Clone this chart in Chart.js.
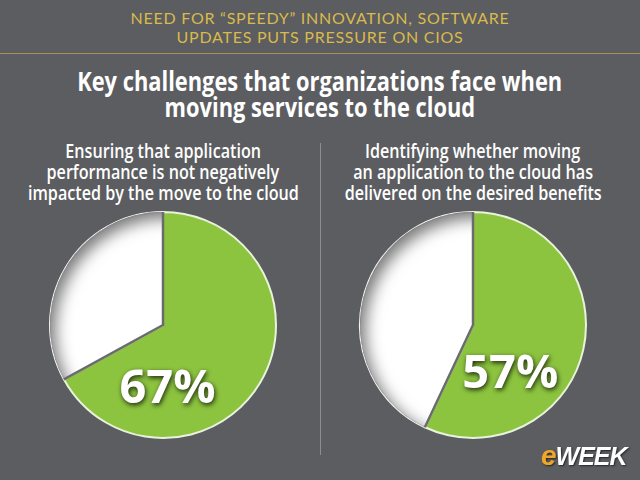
<!DOCTYPE html>
<html>
<head>
<meta charset="utf-8">
<script src="https://cdn.jsdelivr.net/npm/chart.js@4.4.1/dist/chart.umd.min.js"></script>
<style>
  html, body { margin: 0; padding: 0; }
  body {
    width: 640px; height: 480px; overflow: hidden; position: relative;
    background: #5c5d60; font-family: "Open Sans", "Liberation Sans", sans-serif;
  }
  .kicker {
    position: absolute; left: 0; width: 640px; top: 8px; text-align: center;
    color: #d9ba4c; font-family: Lato, "Open Sans", sans-serif; font-size: 16px;
    line-height: 19px; letter-spacing: 0.75px;
  }
  .rule { position: absolute; left: 0; top: 53px; width: 640px; height: 1px; background: #a8925a; }
  .title {
    position: absolute; left: 0; width: 640px; top: 68px; text-align: center;
    color: #fff; font-weight: 700; font-size: 26px; line-height: 26px;
  }
  .title span { display: inline-block; transform: scaleX(0.84); transform-origin: center; white-space: nowrap; }
  .sub span { display: inline-block; transform: scaleX(0.85); transform-origin: center; white-space: nowrap; }
  .sub {
    position: absolute; top: 141px; width: 320px; text-align: center;
    color: #fff; font-weight: 600; font-size: 19px; line-height: 21px;
  }
  .divider { position: absolute; left: 320px; top: 143px; width: 1px; height: 312px; background: #8c8d90; }
  canvas { position: absolute; }
  .logo {
    position: absolute; left: 541px; top: 440px; font-family: "Liberation Sans", Arial, sans-serif;
    font-weight: 700; font-style: italic; font-size: 25px; letter-spacing: -1px;
    text-shadow: 1px 1px 2px rgba(0,0,0,0.6);
  }
  .logo .e { color: #f0a62a; font-size: 28px; }
  .logo .w { color: #fff; }
</style>
</head>
<body>
<div class="kicker">NEED FOR “SPEEDY” INNOVATION, SOFTWARE<br>UPDATES PUTS PRESSURE ON CIOS</div>
<div class="rule"></div>
<div class="title"><span>Key challenges that organizations face when</span><br><span>moving services to the cloud</span></div>
<div class="sub" style="left:3px"><span>Ensuring that application</span><br><span>performance is not negatively</span><br><span>impacted by the move to the cloud</span></div>
<div class="sub" style="left:313px"><span>Identifying whether moving</span><br><span>an application to the cloud has</span><br><span>delivered on the desired benefits</span></div>
<div class="divider"></div>
<canvas id="pieLeft" width="232" height="232" style="left:47px;top:209px"></canvas>
<canvas id="pieRight" width="232" height="232" style="left:357px;top:209px"></canvas>
<div class="logo"><span class="e">e</span><span class="w">WEEK</span></div>

<script>
// slice categories and values
const categories = ['Yes', 'No'];
const leftValues = [67, 33];
const rightValues = [57, 43];
const sliceColors = ['#8cc43f', '#ffffff'];

// big percentage label, offset from the pie centre as a fraction of radius
const pieDecor = {
    id: 'pieDecor',
    afterDatasetsDraw(chart, args, opts) {
        const ctx = chart.ctx;
        const arcs = chart.getDatasetMeta(0).data;
        const green = arcs[0], white = arcs[1];
        const r = green.outerRadius, cx = green.x, cy = green.y;

        // inner shadow on the white slice
        ctx.save();
        ctx.beginPath();
        ctx.moveTo(cx, cy);
        ctx.arc(cx, cy, white.outerRadius, white.startAngle, white.endAngle);
        ctx.closePath();
        ctx.clip();
        ctx.shadowColor = 'rgba(0,0,0,0.55)';
        ctx.shadowBlur = 16;
        ctx.shadowOffsetX = 5;
        ctx.shadowOffsetY = 6;
        ctx.beginPath();
        ctx.arc(cx, cy, r + 12, 0, Math.PI * 2);
        ctx.lineWidth = 24;
        ctx.strokeStyle = '#5c5d60';
        ctx.stroke();
        ctx.restore();

        // dark edges along the green slice's straight sides
        ctx.save();
        ctx.strokeStyle = '#6a6b6d';
        ctx.lineWidth = 2.5;
        ctx.beginPath();
        ctx.moveTo(cx + r * Math.cos(green.startAngle), cy + r * Math.sin(green.startAngle));
        ctx.lineTo(cx, cy);
        ctx.lineTo(cx + r * Math.cos(green.endAngle), cy + r * Math.sin(green.endAngle));
        ctx.stroke();
        ctx.restore();

        // value label
        const value = chart.data.datasets[0].data[0];
        ctx.save();
        ctx.font = '700 47px "Open Sans", sans-serif';
        ctx.textAlign = 'center';
        ctx.textBaseline = 'middle';
        ctx.fillStyle = '#ffffff';
        ctx.shadowColor = 'rgba(0,0,0,0.8)';
        ctx.shadowBlur = 5;
        ctx.shadowOffsetX = 1;
        ctx.shadowOffsetY = 2;
        ctx.fillText(value + '%', cx + r * opts.dx, cy + r * opts.dy);
        ctx.restore();
    }
};

function createPie(canvasId, values, labelPos) {
    const ctx = document.getElementById(canvasId).getContext('2d');
    return new Chart(ctx, {
        type: 'pie',
        data: {
            labels: categories,
            datasets: [{
                data: values,
                backgroundColor: sliceColors,
                borderColor: ['#e9f2dc', '#f2f2f2'],
                borderWidth: 2
            }]
        },
        options: {
            responsive: false,
            animation: false,
            layout: { padding: 2 },
            plugins: {
                legend: { display: false },
                tooltip: { enabled: false },
                pieDecor: labelPos
            }
        },
        plugins: [pieDecor]
    });
}

createPie('pieLeft', leftValues, { dx: 0.04, dy: 0.57 });
createPie('pieRight', rightValues, { dx: 0.33, dy: 0.44 });
</script>
</body>
</html>
